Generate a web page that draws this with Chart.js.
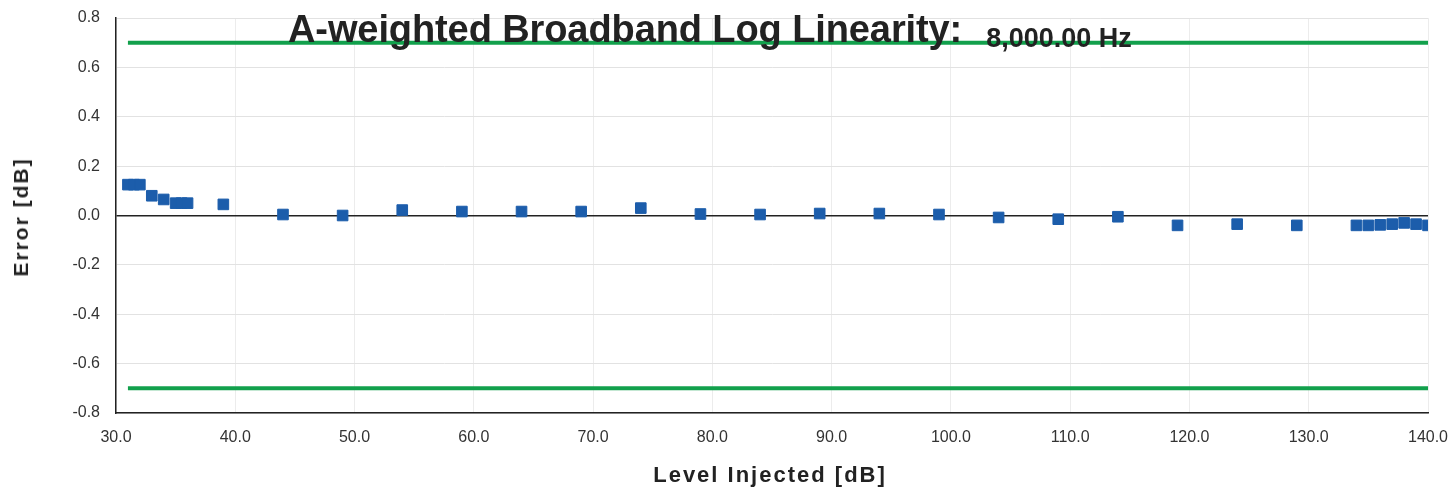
<!DOCTYPE html>
<html>
<head>
<meta charset="utf-8">
<script src="https://cdn.jsdelivr.net/npm/chart.js@4.4.1/dist/chart.umd.min.js"></script>
<style>
  html, body { margin: 0; padding: 0; background: #fff; }
  #wrap { position: relative; width: 1452px; height: 490px; font-family: Arial, "Liberation Sans", sans-serif; }
  #chart { position: absolute; left: 0; top: 0; }
  .title { position: absolute; left: 288px; top: 10px; font-size: 38px; line-height: 38px; font-weight: bold; color: #222; white-space: nowrap; letter-spacing: -0.1px; }
  .title small { font-size: 27px; margin-left: 24px; position: relative; top: 5px; letter-spacing: 0; }
  .ytitle { position: absolute; left: 21px; top: 217px; transform: translate(-50%, -50%) rotate(-90deg); font-size: 21px; letter-spacing: 2px; font-weight: bold; color: #222; white-space: nowrap; }
  .xtitle { position: absolute; left: 770px; top: 475px; transform: translate(-50%, -50%); font-size: 22px; letter-spacing: 2px; font-weight: bold; color: #222; white-space: nowrap; }
</style>
</head>
<body>
<div id="wrap">
  <canvas id="chart" width="1452" height="490"></canvas>
  <div class="title">A-weighted Broadband Log Linearity:<small>8,000.00 Hz</small></div>
  <div class="ytitle">Error [dB]</div>
  <div class="xtitle">Level Injected [dB]</div>
</div>
<script>
// Measured points
const levels = [31, 31.5, 32, 33, 34, 35, 35.5, 36, 39, 44, 49, 54, 59, 64, 69, 74, 79, 84, 89, 94,
                99, 104, 109, 114, 119, 124, 129, 134, 135, 136, 137, 138, 139, 140];
const errors = [0.125, 0.125, 0.125, 0.08, 0.065, 0.05, 0.05, 0.05, 0.045, 0.004, 0.0, 0.022, 0.016, 0.016, 0.016, 0.03, 0.006, 0.004, 0.008, 0.008,
                0.004, -0.008, -0.015, -0.005, -0.04, -0.035, -0.04, -0.04, -0.04, -0.038, -0.035, -0.03, -0.035, -0.04];

// Tolerance limits
const limitX = [31, 140];
const upperLimit = [0.7, 0.7];
const lowerLimit = [-0.7, -0.7];

const errorPoints = levels.map((x, i) => ({ x: x, y: errors[i] }));
const upperPoints = limitX.map((x, i) => ({ x: x, y: upperLimit[i] }));
const lowerPoints = limitX.map((x, i) => ({ x: x, y: lowerLimit[i] }));

const tickFont = { family: 'Arial, "Liberation Sans", sans-serif', size: 16 };

new Chart(document.getElementById('chart'), {
    type: 'scatter',
    data: {
        datasets: [
            {
                label: 'Upper',
                data: upperPoints,
                showLine: true,
                borderColor: '#12a04c',
                borderWidth: 4,
                pointRadius: 0
            },
            {
                label: 'Lower',
                data: lowerPoints,
                showLine: true,
                borderColor: '#12a04c',
                borderWidth: 4,
                pointRadius: 0
            },
            {
                label: 'Error',
                data: errorPoints,
                pointStyle: 'rect',
                pointRadius: 7.5,
                pointBackgroundColor: '#1c5dab',
                pointBorderColor: '#1c5dab',
                pointBorderWidth: 1
            }
        ]
    },
    options: {
        responsive: false,
        animation: false,
        layout: { padding: { top: 18, right: 0, left: 0, bottom: 0 } },
        plugins: {
            legend: { display: false },
            tooltip: { enabled: false }
        },
        scales: {
            x: {
                type: 'linear',
                min: 30,
                max: 140,
                afterFit: (scale) => {
                    scale.height = 77;
                    scale.paddingLeft = 0;
                    scale.paddingRight = 24;
                },
                border: { color: '#222', width: 1.5 },
                grid: { color: '#ececec', drawTicks: false },
                ticks: {
                    stepSize: 10,
                    padding: 15,
                    color: '#333',
                    font: tickFont,
                    callback: (v) => v.toFixed(1)
                }
            },
            y: {
                min: -0.8,
                max: 0.8,
                afterFit: (scale) => {
                    scale.width = 116;
                    scale.paddingTop = 0;
                    scale.paddingBottom = 0;
                },
                border: { color: '#222', width: 1.5 },
                grid: {
                    drawTicks: false,
                    color: (ctx) => (ctx.tick && Math.abs(ctx.tick.value) < 1e-9) ? '#222' : '#e2e2e2',
                    lineWidth: (ctx) => (ctx.tick && Math.abs(ctx.tick.value) < 1e-9) ? 1.5 : 1
                },
                ticks: {
                    stepSize: 0.2,
                    padding: 16,
                    color: '#333',
                    font: tickFont,
                    callback: (v) => v.toFixed(1)
                }
            }
        }
    }
});
</script>
</body>
</html>
